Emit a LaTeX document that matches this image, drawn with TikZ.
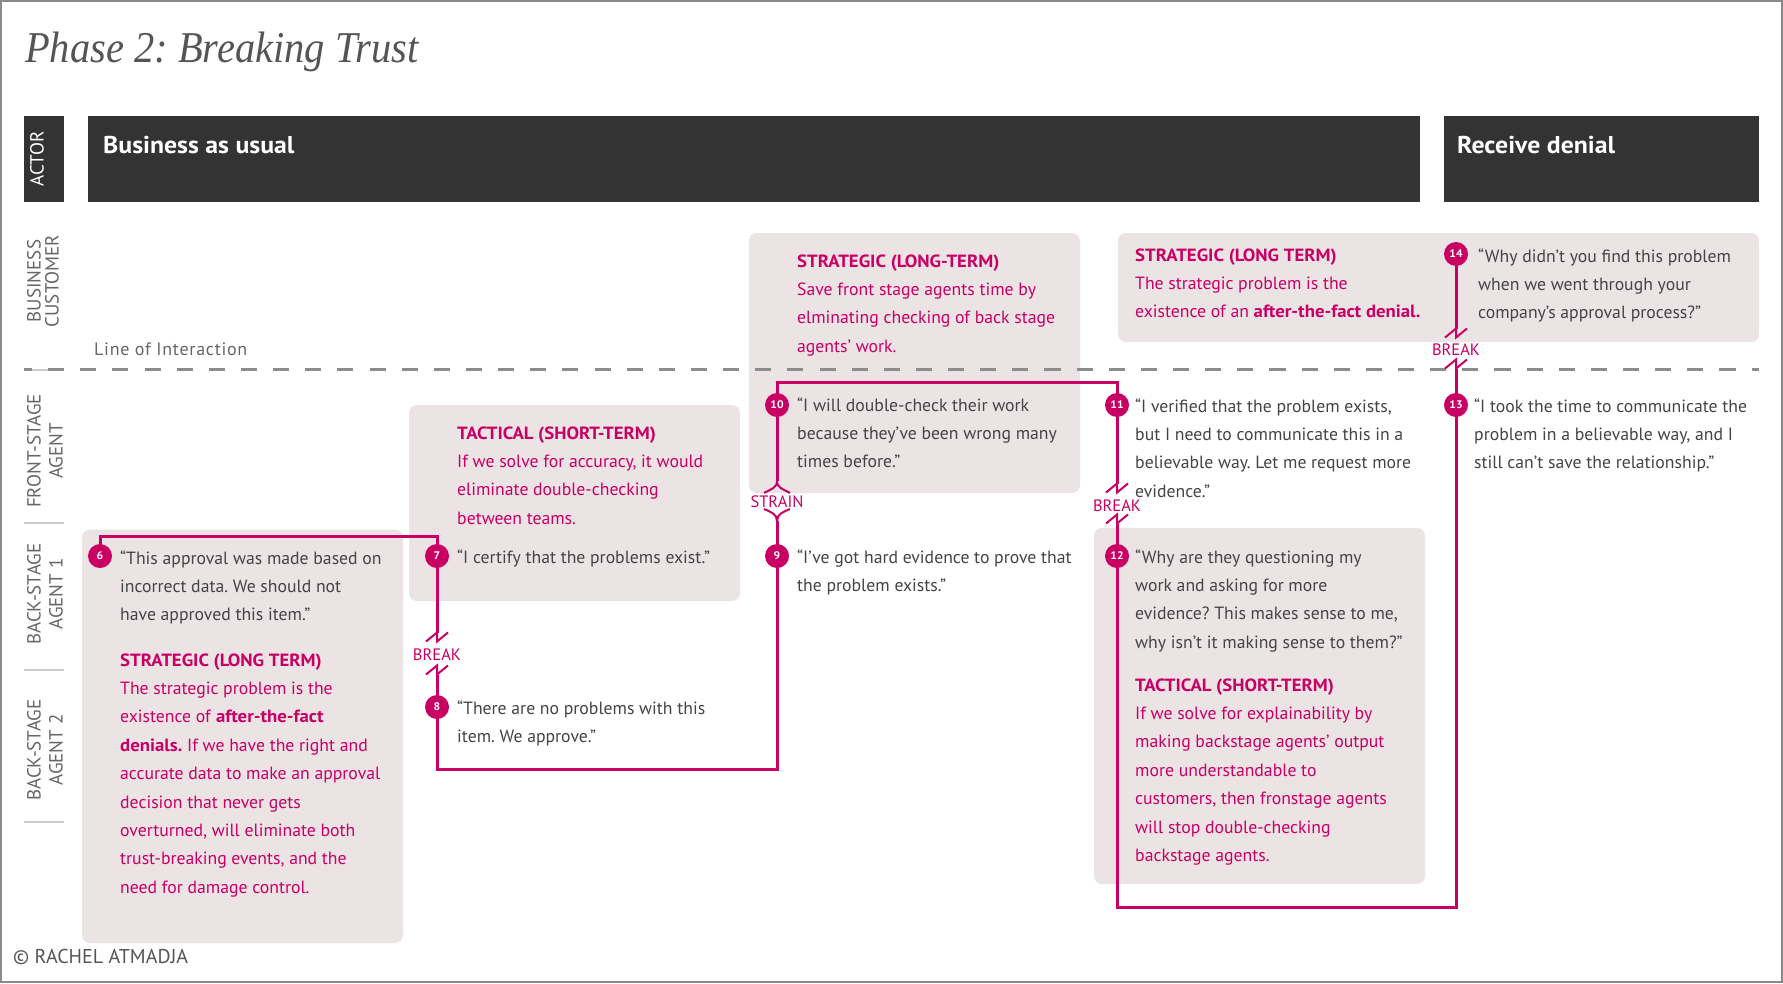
\documentclass[tikz,border=0pt]{standalone}
\usepackage{fontspec}
\setmainfont{PT Sans}[BoldFeatures={FakeStretch=1.06}]
\newfontfamily\titlefont[FakeStretch=0.92]{Liberation Serif}
\newfontfamily\lanefont[LetterSpace=4]{PT Sans}
\frenchspacing
\definecolor{mag}{HTML}{C80064}
\definecolor{boxpink}{HTML}{ECE3E5}
\definecolor{barc}{HTML}{333333}
\definecolor{bodyc}{HTML}{444444}
\definecolor{lanec}{HTML}{666666}
\definecolor{dashc}{HTML}{8C8C8C}
\definecolor{sepc}{HTML}{CCCCCC}
\definecolor{framec}{HTML}{8A8A8A}
\definecolor{titlec}{HTML}{555555}
\pgfdeclarelayer{boxes}
\pgfdeclarelayer{lines}
\pgfsetlayers{boxes,lines,main}
\newcommand{\tblock}[1]{\parbox[t]{440pt}{\raggedright #1}}
\tikzset{
  pinkbox/.style={fill=boxpink, rounded corners=8pt},
  conn/.style={draw=mag, line width=3pt},
  brkmark/.style={draw=mag, line width=2pt},
  num/.style={circle, fill=mag, minimum size=24pt, inner sep=0pt, text=white,
    font=\bfseries\fontsize{11}{11}\selectfont},
  txt/.style={anchor=base west, inner sep=0pt, text=bodyc,
    font=\fontsize{17.7}{28.4}\selectfont},
  stxt/.style={txt, text=mag},
  hdr/.style={anchor=base west, inner sep=0pt, text=white,
    font=\bfseries\fontsize{24.3}{24.3}\selectfont},
  lane/.style={rotate=90, inner sep=0pt, align=center, text=lanec},
  lbl/.style={anchor=base, inner sep=0pt, text=mag, font=\fontsize{16.5}{16.5}\selectfont},
  sepline/.style={draw=sepc, line width=1.5pt}
}
\newcommand{\brk}[2]{\draw[brkmark] ({#1-11},{#2+4.5}) -- (#1,{#2-4.5}) -- (#1,{#2+4.5}) -- ({#1+11},{#2-4.5});}
\begin{document}
\begin{tikzpicture}[x=1pt,y=-1pt]
\useasboundingbox (0,0) rectangle (1783,983);
\begin{pgfonlayer}{boxes}
  \fill[white] (0,0) rectangle (1783,983);
  \draw[framec, line width=2pt] (1,1) rectangle (1782,982);
  % header bars
  \fill[barc] (24,116) rectangle (64,202);
  \fill[barc] (88,116) rectangle (1420,202);
  \fill[barc] (1444,116) rectangle (1759,202);
  % pink boxes
  \fill[pinkbox] (82,529.5) rectangle (403,943);
  \fill[pinkbox] (409,405) rectangle (740,601);
  \fill[pinkbox] (749,233) rectangle (1080,493);
  \fill[pinkbox] (1118,233) rectangle (1759,342);
  \fill[pinkbox] (1094,528) rectangle (1425,884);
  % lane separators
  \draw[sepline] (24,370) -- (64,370);
  \draw[sepline] (24,523) -- (64,523);
  \draw[sepline] (24,670) -- (64,670);
  \draw[sepline] (24,822) -- (64,822);
  % line of interaction
  \draw[dashc, line width=3pt, dash pattern=on 16.07pt off 16.07pt, dash phase=8pt] (24,369.5) -- (1759,369.5);
\end{pgfonlayer}

% title
\node[anchor=base west, inner sep=0pt, text=titlec, font=\titlefont\itshape\fontsize{44}{44}\selectfont] (title) at (25,62) {Phase 2: Breaking Trust};

% headers
\node[hdr] (hbau) at (103,153) {Business as usual};
\node[hdr] (hrd) at (1457,153) {Receive denial};
\node[rotate=90, inner sep=0pt, text=white, font=\fontsize{19}{19}\selectfont] (actor) at (37,159) {ACTOR};

% lane labels
\node[lane, font=\fontsize{19}{18}\selectfont] (lbc) at (43,281) {BUSINESS\\CUSTOMER};
\node[lane, font=\fontsize{19}{22}\selectfont] (lfs) at (45,451) {FRONT-STAGE\\AGENT};
\node[lane, font=\fontsize{19}{22}\selectfont] (lb1) at (45,594) {BACK-STAGE\\AGENT 1};
\node[lane, font=\fontsize{19}{22}\selectfont] (lb2) at (45,750) {BACK-STAGE\\AGENT 2};
\node[anchor=base west, inner sep=0pt, text=lanec, font=\lanefont\fontsize{18}{18}\selectfont] (loi) at (94,355) {Line of Interaction};
\node[anchor=base west, inner sep=0pt, text=titlec, font=\fontsize{20}{20}\selectfont] (copy) at (13,963) {© RACHEL ATMADJA};

% numbered circles
\node[num] (c6) at (100,556) {6};
\node[num] (c7) at (437,556) {7};
\node[num] (c8) at (437,707) {8};
\node[num] (c9) at (777,556) {9};
\node[num] (c10) at (777,405) {10};
\node[num] (c11) at (1117,405) {11};
\node[num] (c12) at (1117,556) {12};
\node[num] (c13) at (1456,405) {13};
\node[num] (c14) at (1456,254) {14};

% texts
\node[txt] (q6) at (120,564) {\tblock{“This approval was made based on\\incorrect data. We should not\\have approved this item.”}};
\node[stxt] (s6) at (120,666) {\tblock{\textbf{STRATEGIC (LONG TERM)}\\The strategic problem is the\\existence of \textbf{after-the-fact}\\\textbf{denials.} If we have the right and\\accurate data to make an approval\\decision that never gets\\overturned, will eliminate both\\trust-breaking events, and the\\need for damage control.}};
\node[stxt] (t7) at (457,439) {\tblock{\textbf{TACTICAL (SHORT-TERM)}\\If we solve for accuracy, it would\\eliminate double-checking\\between teams.}};
\node[txt] (q7) at (457,563) {\tblock{“I certify that the problems exist.”}};
\node[txt] (q8) at (457,714) {\tblock{“There are no problems with this\\item. We approve.”}};
\node[stxt] (s10) at (797,267) {\tblock{\textbf{STRATEGIC (LONG-TERM)}\\Save front stage agents time by\\elminating checking of back stage\\agents’ work.}};
\node[txt] (q10) at (797,411) {\tblock{“I will double-check their work\\because they’ve been wrong many\\times before.”}};
\node[txt] (q9) at (797,563) {\tblock{“I’ve got hard evidence to prove that\\the problem exists.”}};
\node[stxt] (s14) at (1135,261) {\tblock{\textbf{STRATEGIC (LONG TERM)}\\The strategic problem is the\\existence of an \textbf{after-the-fact denial.}}};
\node[txt] (q14) at (1478,262) {\tblock{“Why didn’t you find this problem\\when we went through your\\company’s approval process?”}};
\node[txt] (q11) at (1135,412) {\tblock{“I verified that the problem exists,\\but I need to communicate this in a\\believable way. Let me request more\\evidence.”}};
\node[txt] (q12) at (1135,563) {\tblock{“Why are they questioning my\\work and asking for more\\evidence? This makes sense to me,\\why isn’t it making sense to them?”}};
\node[stxt] (t12) at (1135,691) {\tblock{\textbf{TACTICAL (SHORT-TERM)}\\If we solve for explainability by\\making backstage agents’ output\\more understandable to\\customers, then fronstage agents\\will stop double-checking\\backstage agents.}};
\node[txt] (q13) at (1474,412) {\tblock{“I took the time to communicate the\\problem in a believable way, and I\\still can’t save the relationship.”}};

% break / strain labels
\node[lbl] (brk78) at (437,660) {BREAK};
\node[lbl] (brk1112) at (1117,511) {BREAK};
\node[lbl] (brk1314) at (1456,355) {BREAK};
\node[lbl] (str910) at (777,507) {STRAIN};

% connectors
\begin{pgfonlayer}{lines}
  \coordinate (k6) at (0,536);
  \draw[conn] (c6.center) -- (c6.center |- k6) -- (c7.center |- k6) -- (c7.center);
  \coordinate (m7a) at (437,632.5);
  \coordinate (m8a) at (437,674.5);
  \draw[conn] (c7.center) -- (m7a);
  \draw[conn] (m8a) -- (c8.center);
  \brk{437}{637}
  \brk{437}{670}
  \coordinate (k8) at (0,769);
  \draw[conn] (c8.center) -- (c8.center |- k8) -- (c9.center |- k8) -- (c9.center);
  \coordinate (m9a) at (777,521);
  \coordinate (m10a) at (777,481);
  \draw[conn] (c9.center) -- (m9a);
  \draw[conn] (m10a) -- (c10.center);
  \draw[brkmark] (m10a) .. controls (777,488) and (771,489) .. (764,493);
  \draw[brkmark] (m10a) .. controls (777,488) and (783,489) .. (790,493);
  \draw[brkmark] (m9a) .. controls (777,514) and (771,512) .. (764,509);
  \draw[brkmark] (m9a) .. controls (777,514) and (783,512) .. (790,509);
  \coordinate (k10) at (0,382);
  \draw[conn] (c10.center) -- (c10.center |- k10) -- (c11.center |- k10) -- (c11.center);
  \coordinate (m11a) at (1117,483.5);
  \coordinate (m12a) at (1117,523.5);
  \draw[conn] (c11.center) -- (m11a);
  \draw[conn] (m12a) -- (c12.center);
  \brk{1117}{488}
  \brk{1117}{519}
  \coordinate (k12) at (0,907);
  \draw[conn] (c12.center) -- (c12.center |- k12) -- (c13.center |- k12) -- (c13.center);
  \coordinate (m13a) at (1456,368.5);
  \coordinate (m14a) at (1456,328.5);
  \draw[conn] (c13.center) -- (m13a);
  \draw[conn] (m14a) -- (c14.center);
  \brk{1456}{333}
  \brk{1456}{364}
\end{pgfonlayer}
\end{tikzpicture}
\end{document}
